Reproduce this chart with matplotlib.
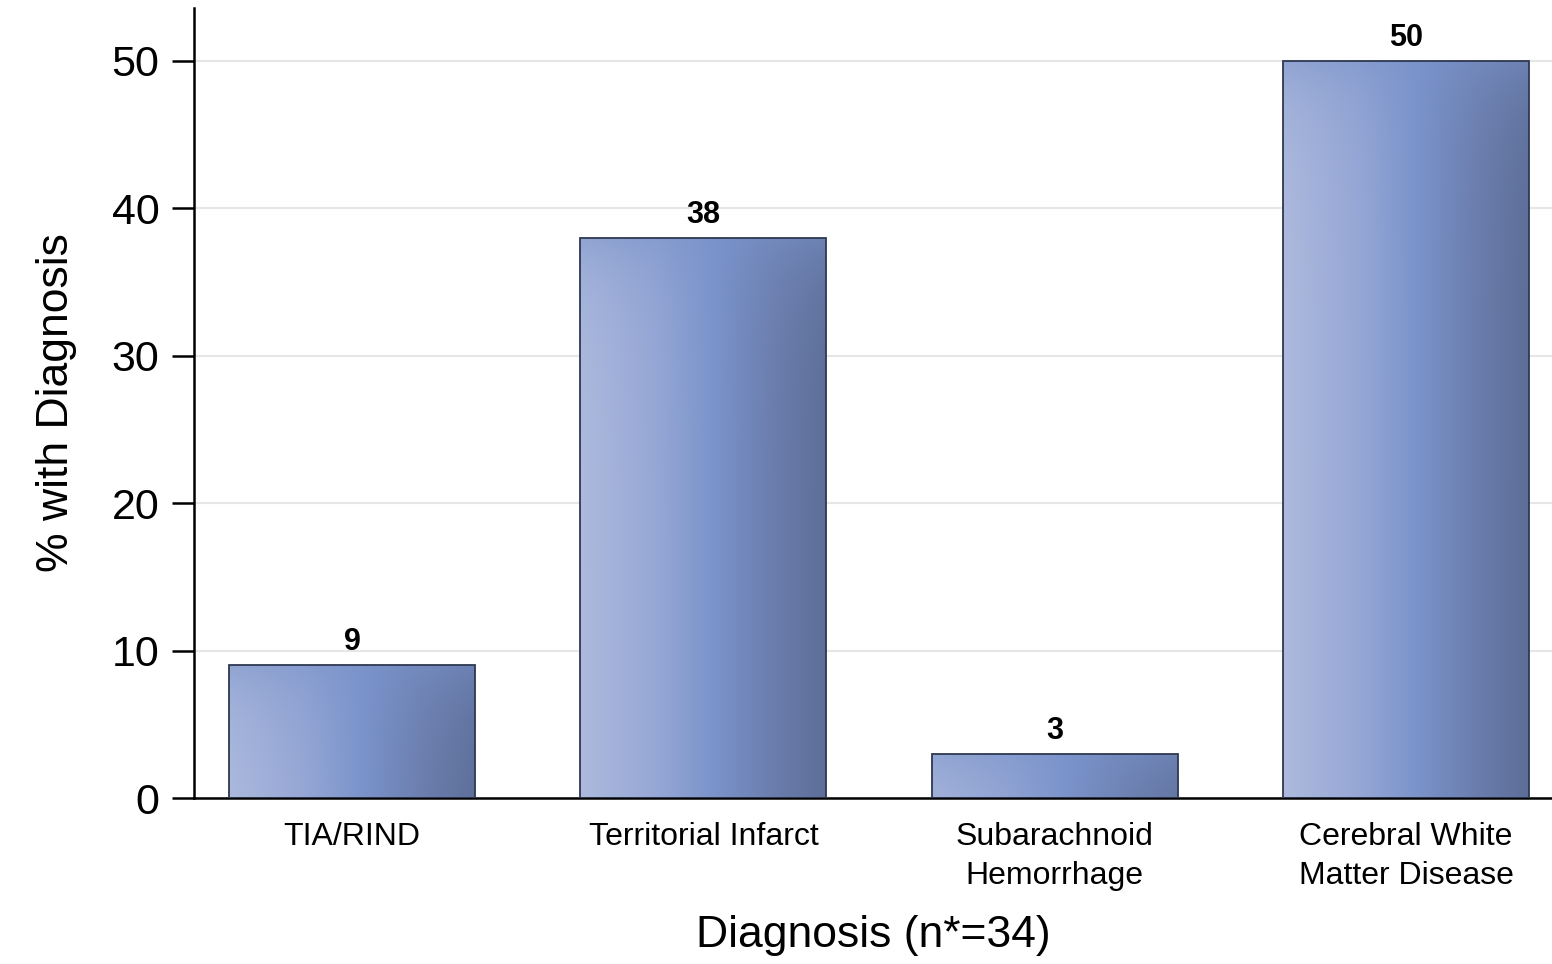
import numpy as np
import matplotlib
matplotlib.use('Agg')
import matplotlib.pyplot as plt
from matplotlib.colors import LinearSegmentedColormap, to_rgb

categories = ['TIA/RIND', 'Territorial Infarct', 'Subarachnoid\nHemorrhage',
              'Cerebral White\nMatter Disease']
values = [9, 38, 3, 50]
yticks = [0, 10, 20, 30, 40, 50]

plt.rcParams['font.family'] = ['Liberation Sans', 'DejaVu Sans']

fg = plt.figure(figsize=(15.52, 9.64), dpi=100)
ax = fg.add_axes([0.125, 0.172, 0.875, 0.82])

# horizontal gradient: light left -> mid -> dark right
cmap = LinearSegmentedColormap.from_list('barg', [
    (0.0, '#adbadd'), (0.3, '#97a8d6'), (0.55, '#7a93ca'),
    (0.8, '#6a7cab'), (1.0, '#5d6e98')])
mid = np.array(to_rgb('#7a93ca'))


def bar_image(h):
    gx = np.linspace(0, 1, 256)
    gy = np.linspace(0, h, 200)
    X, Y = np.meshgrid(gx, gy)
    rgb = cmap(X)[..., :3]
    # light side fades towards the mid colour close to the top edge
    wt = 0.55 * np.exp(-(h - Y) / 3.5)
    rgb = rgb * (1 - wt[..., None]) + mid * wt[..., None]
    return rgb


x = np.arange(len(values))
w = 0.70
bars = ax.bar(x, values, width=w, facecolor='none', edgecolor='#2e3850',
              linewidth=1.3, zorder=3)
for b, v in zip(bars, values):
    im = ax.imshow(bar_image(v), extent=[b.get_x(), b.get_x() + w, 0, v],
                   origin='lower', aspect='auto', zorder=2, interpolation='bilinear')
    im.set_clip_path(b)
    ax.text(b.get_x() + w / 2, v + 0.55, str(v), ha='center', va='bottom',
            fontsize=22, fontweight='bold', zorder=4)

ax.set_xlim(-0.45, 3.415)
ax.set_ylim(0, 53.6)
ax.set_yticks(yticks)
ax.set_xticks(x)
ax.set_xticklabels(categories, fontsize=23, linespacing=1.4)
ax.tick_params(axis='x', length=0, pad=17)
ax.tick_params(axis='y', labelsize=31, length=16, width=1.8, pad=9)
ax.yaxis.grid(True, color='#e6e6e6', linewidth=1.5, zorder=0)
ax.set_axisbelow(True)

for s in ['top', 'right']:
    ax.spines[s].set_visible(False)
ax.spines['left'].set_linewidth(1.8)
ax.spines['bottom'].set_linewidth(1.8)

ax.set_ylabel('% with Diagnosis', fontsize=32, labelpad=25)
ax.set_xlabel('Diagnosis (n*=34)', fontsize=32, labelpad=17)

fg.savefig('out.png', dpi=100)
